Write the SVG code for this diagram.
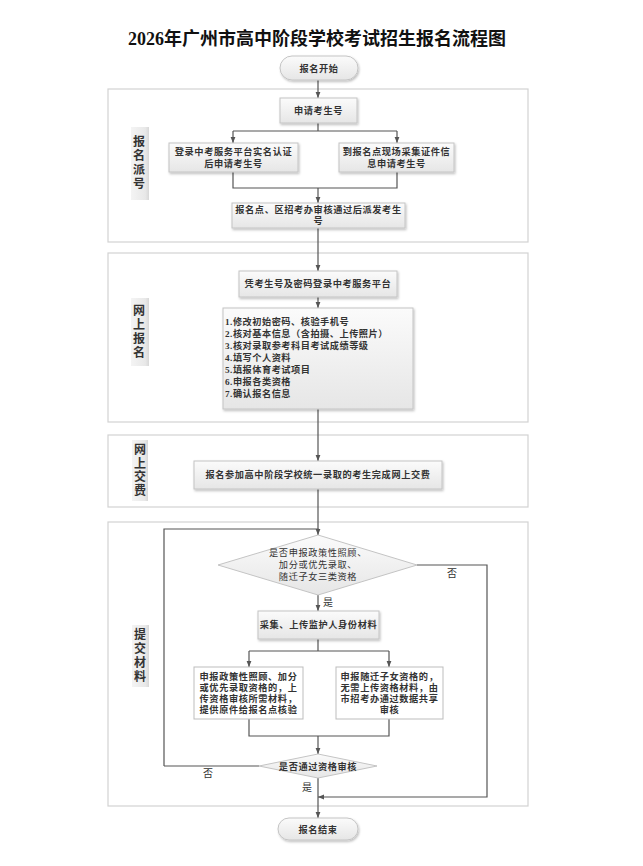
<svg xmlns="http://www.w3.org/2000/svg" width="643" height="866" viewBox="0 0 643 866">
<defs>
<linearGradient id="g" x1="0" y1="0" x2="0" y2="1"><stop offset="0" stop-color="#fbfbfb"/><stop offset="1" stop-color="#e6e6e6"/></linearGradient>
<linearGradient id="lb" x1="0" y1="0" x2="1" y2="0"><stop offset="0" stop-color="#f4f4f4"/><stop offset="0.8" stop-color="#e8e8e8"/><stop offset="1" stop-color="#d8d8d8"/></linearGradient>
<filter id="sh" x="-10%" y="-20%" width="120%" height="150%"><feDropShadow dx="1" dy="1.5" stdDeviation="1" flood-color="#000" flood-opacity="0.25"/></filter>
<marker id="a" viewBox="0 0 10 10" refX="10" refY="5" markerWidth="5" markerHeight="5" orient="auto"><path d="M0,1 L10,5 L0,9 z" fill="#555"/></marker>
<style>
text{font-family:"Liberation Serif","Noto Sans CJK SC",serif;fill:#333}
.t{font-size:9.2px;font-weight:bold;letter-spacing:0.6px;text-anchor:middle}
.tl{font-size:9.2px;font-weight:bold;letter-spacing:0.5px}
.d{font-size:9.2px;letter-spacing:0.6px;text-anchor:middle}
.lab{font-size:12px;font-weight:bold;text-anchor:middle}
.yn{font-size:10px;text-anchor:middle}
.sec{fill:#fff;stroke:#d2d2d2;stroke-width:1.2}
.box{fill:url(#g);stroke:#c4c4c4;stroke-width:1;filter:url(#sh)}
.pbox{fill:#fff;stroke:#bdbdbd;stroke-width:1}
.lbar{fill:url(#lb)}
.ln{fill:none;stroke:#555;stroke-width:1.2}
.arr{fill:none;stroke:#555;stroke-width:1.2;marker-end:url(#a)}
</style>
</defs>
<rect width="643" height="866" fill="#fff"/>
<text x="317" y="45" style="font-size:18px;font-weight:bold;text-anchor:middle;fill:#111">2026年广州市高中阶段学校考试招生报名流程图</text>

<g id="sections">
<rect class="sec" x="108" y="89" width="420" height="153"/>
<rect class="sec" x="108" y="253" width="420" height="169"/>
<rect class="sec" x="108" y="435" width="420" height="72"/>
<rect class="sec" x="108" y="522" width="420" height="284"/>
</g>

<g id="label1"><rect class="lbar" x="131" y="127" width="18" height="73"/><text class="lab" x="139" y="146">报</text><text class="lab" x="139" y="160">名</text><text class="lab" x="139" y="174">派</text><text class="lab" x="139" y="188">号</text></g>
<g id="label2"><rect class="lbar" x="131" y="298" width="18" height="68"/><text class="lab" x="139" y="315">网</text><text class="lab" x="139" y="329">上</text><text class="lab" x="139" y="343">报</text><text class="lab" x="139" y="357">名</text></g>
<g id="label3"><rect class="lbar" x="132" y="440" width="16" height="61"/><text class="lab" x="140" y="454">网</text><text class="lab" x="140" y="467.5">上</text><text class="lab" x="140" y="481">交</text><text class="lab" x="140" y="494.5">费</text></g>
<g id="label4"><rect class="lbar" x="132" y="625" width="17" height="62"/><text class="lab" x="140" y="639">提</text><text class="lab" x="140" y="653">交</text><text class="lab" x="140" y="667">材</text><text class="lab" x="140" y="681">料</text></g>

<g id="connectors">
<path class="arr" d="M318,80 V98"/>
<path class="ln" d="M318,123 V131 M233,131 H397"/>
<path class="arr" d="M233,131 V143"/>
<path class="arr" d="M397,131 V143"/>
<path class="ln" d="M233,172 V188 H397 V172"/>
<path class="arr" d="M318,188 V203"/>
<path class="arr" d="M318,228 V271"/>
<path class="arr" d="M318,297 V308"/>
<path class="arr" d="M318,409 V461"/>
<path class="ln" d="M318,489 V529"/>
<path class="arr" d="M164,766 V529 H318 V535"/>
<path class="arr" d="M318,595 V611"/>
<path class="ln" d="M318,639 V651 M249,651 H389"/>
<path class="arr" d="M249,651 V667"/>
<path class="arr" d="M389,651 V667"/>
<path class="ln" d="M249,719 V736 H389 V719"/>
<path class="arr" d="M318,736 V754"/>
<path class="ln" d="M259,766 H164"/>
<path class="arr" d="M417,565 H487 V797 H318"/>
<path class="arr" d="M318,778 V818"/>
<text class="yn" x="452" y="577">否</text>
<text class="yn" x="328" y="606">是</text>
<text class="yn" x="208" y="777">否</text>
<text class="yn" x="307" y="791">是</text>
</g>

<g id="start"><rect x="280" y="56" width="78" height="24" rx="12" fill="url(#g)" stroke="#c4c4c4" filter="url(#sh)"/><text class="t" x="319" y="71.5">报名开始</text></g>
<g id="n1"><rect class="box" x="280" y="98" width="77" height="25"/><text class="t" x="318.5" y="114">申请考生号</text></g>
<g id="n2"><rect class="box" x="169" y="143" width="129" height="29"/><text class="t" x="233.5" y="155">登录中考服务平台实名认证</text><text class="t" x="233.5" y="167">后申请考生号</text></g>
<g id="n3"><rect class="box" x="339" y="143" width="115" height="29"/><text class="t" x="396.5" y="155">到报名点现场采集证件信</text><text class="t" x="396.5" y="167">息申请考生号</text></g>
<g id="n4"><rect class="box" x="232" y="203" width="173" height="25"/><text class="t" x="318.5" y="213">报名点、区招考办审核通过后派发考生</text><text class="t" x="318.5" y="224">号</text></g>
<g id="n5"><rect class="box" x="239" y="271" width="158" height="26"/><text class="t" x="318" y="287">凭考生号及密码登录中考服务平台</text></g>
<g id="n6"><rect class="box" x="223" y="308" width="190" height="101"/>
<text class="tl" x="225" y="325">1.修改初始密码、核验手机号</text>
<text class="tl" x="225" y="337">2.核对基本信息（含拍摄、上传照片）</text>
<text class="tl" x="225" y="349">3.核对录取参考科目考试成绩等级</text>
<text class="tl" x="225" y="361">4.填写个人资料</text>
<text class="tl" x="225" y="373">5.填报体育考试项目</text>
<text class="tl" x="225" y="385">6.申报各类资格</text>
<text class="tl" x="225" y="397">7.确认报名信息</text></g>
<g id="n7"><rect class="box" x="194" y="461" width="248" height="28"/><text class="t" x="318" y="478">报名参加高中阶段学校统一录取的考生完成网上交费</text></g>
<g id="d1"><polygon points="318,535 417,565 318,595 218,565" fill="url(#g)" stroke="#c4c4c4"/><text class="d" x="318" y="556">是否申报政策性照顾、</text><text class="d" x="318" y="568">加分或优先录取、</text><text class="d" x="318" y="580">随迁子女三类资格</text></g>
<g id="n8"><rect class="box" x="258" y="611" width="121" height="28"/><text class="t" x="318.5" y="628">采集、上传监护人身份材料</text></g>
<g id="n9"><rect class="pbox" x="194" y="667" width="109" height="52"/><text class="t" x="248.5" y="680">申报政策性照顾、加分</text><text class="t" x="248.5" y="691">或优先录取资格的，上</text><text class="t" x="248.5" y="702">传资格审核所需材料，</text><text class="t" x="248.5" y="713">提供原件给报名点核验</text></g>
<g id="n10"><rect class="pbox" x="336" y="667" width="107" height="52"/><text class="t" x="389.5" y="680">申报随迁子女资格的，</text><text class="t" x="389.5" y="691">无需上传资格材料，由</text><text class="t" x="389.5" y="702">市招考办通过数据共享</text><text class="t" x="389.5" y="713">审核</text></g>
<g id="d2"><polygon points="318,754 377,766 318,778 259,766" fill="url(#g)" stroke="#c4c4c4"/><text class="t" x="318" y="769.5">是否通过资格审核</text></g>
<g id="end"><rect x="278" y="818" width="80" height="22" rx="11" fill="url(#g)" stroke="#c4c4c4" filter="url(#sh)"/><text class="t" x="318" y="832.5">报名结束</text></g>
</svg>
